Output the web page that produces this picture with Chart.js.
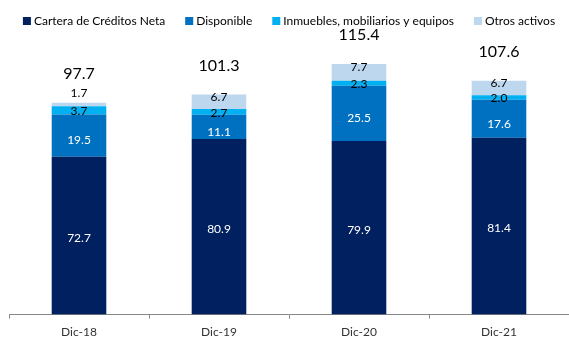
<!DOCTYPE html>
<html>
<head>
<meta charset="utf-8">
<script src="https://cdn.jsdelivr.net/npm/chart.js@4.4.1/dist/chart.umd.min.js"></script>
<style>
  html, body { margin: 0; padding: 0; background: #fff; }
  #wrap { width: 569px; height: 337px; }
</style>
</head>
<body>
<div id="wrap"><canvas id="chart"></canvas></div>
<script>
const periods = ['Dic-18', 'Dic-19', 'Dic-20', 'Dic-21'];
const cartera = [72.7, 80.9, 79.9, 81.4];
const disponible = [19.5, 11.1, 25.5, 17.6];
const inmuebles = [3.7, 2.7, 2.3, 2.0];
const otros = [1.7, 6.7, 7.7, 6.7];
const totals = [97.7, 101.3, 115.4, 107.6];

const FONT = 'Lato';

// draws the value inside each segment and the total above each bar
const barLabels = {
  id: 'barLabels',
  afterDatasetsDraw(chart) {
    const ctx = chart.ctx;
    const last = chart.data.datasets.length - 1;
    ctx.save();
    ctx.textAlign = 'center';
    ctx.textBaseline = 'middle';
    chart.data.datasets.forEach((ds, i) => {
      const meta = chart.getDatasetMeta(i);
      ctx.font = '12px ' + FONT;
      ctx.fillStyle = ds.labelColor;
      meta.data.forEach((bar, j) => {
        const h = bar.base - bar.y;
        let y = bar.y + h / 2 + ds.labelShift;
        if (i === last && h < 6) y = bar.y - 10;
        ctx.fillText(ds.data[j].toFixed(1), bar.x, y);
      });
    });
    ctx.font = '16px ' + FONT;
    ctx.fillStyle = '#000';
    chart.getDatasetMeta(last).data.forEach((bar, j) => {
      ctx.fillText(totals[j].toFixed(1), bar.x, bar.y - 29);
    });
    ctx.restore();
  }
};

// single-row legend, the built-in one wraps at this width
const topLegend = {
  id: 'topLegend',
  afterDraw(chart) {
    const ctx = chart.ctx;
    const area = chart.chartArea;
    const sets = chart.data.datasets;
    ctx.save();
    ctx.font = '12px ' + FONT;
    ctx.textBaseline = 'middle';
    ctx.textAlign = 'left';
    const box = 8, gap = 3, spacing = 20, y = 21;
    const widths = sets.map(ds => box + gap + ctx.measureText(ds.label).width);
    const total = widths.reduce((a, b) => a + b, 0) + spacing * (sets.length - 1);
    let x = (area.left + area.right) / 2 - total / 2;
    sets.forEach((ds, i) => {
      ctx.fillStyle = ds.backgroundColor;
      ctx.fillRect(x, y - box / 2, box, box);
      ctx.fillStyle = '#000';
      ctx.fillText(ds.label, x + box + gap, y);
      x += widths[i] + spacing;
    });
    ctx.restore();
  }
};

new Chart(document.getElementById('chart'), {
  type: 'bar',
  data: {
    labels: periods,
    datasets: [
      { label: 'Cartera de Créditos Neta', data: cartera, backgroundColor: '#00205F', labelColor: '#fff', labelShift: 2 },
      { label: 'Disponible', data: disponible, backgroundColor: '#0070C0', labelColor: '#fff', labelShift: 5 },
      { label: 'Inmuebles, mobiliarios y equipos', data: inmuebles, backgroundColor: '#00B0F0', labelColor: '#000', labelShift: 1 },
      { label: 'Otros activos', data: otros, backgroundColor: '#BDD7EE', labelColor: '#000', labelShift: -5 }
    ]
  },
  options: {
    responsive: true,
    maintainAspectRatio: false,
    animation: false,
    layout: { padding: { left: 9, right: 0, top: 41, bottom: -8 } },
    datasets: { bar: { barPercentage: 0.39, categoryPercentage: 1, borderWidth: 0 } },
    plugins: {
      legend: { display: false },
      tooltip: { enabled: false }
    },
    scales: {
      x: {
        stacked: true,
        grid: { offset: true, drawOnChartArea: false, drawTicks: true, tickLength: 4, color: '#888' },
        border: { display: true, color: '#888' },
        ticks: { padding: 6, color: '#333', font: { family: FONT, size: 12 } }
      },
      y: {
        stacked: true,
        display: false,
        min: 0,
        max: 126
      }
    }
  },
  plugins: [barLabels, topLegend]
});
</script>
</body>
</html>
